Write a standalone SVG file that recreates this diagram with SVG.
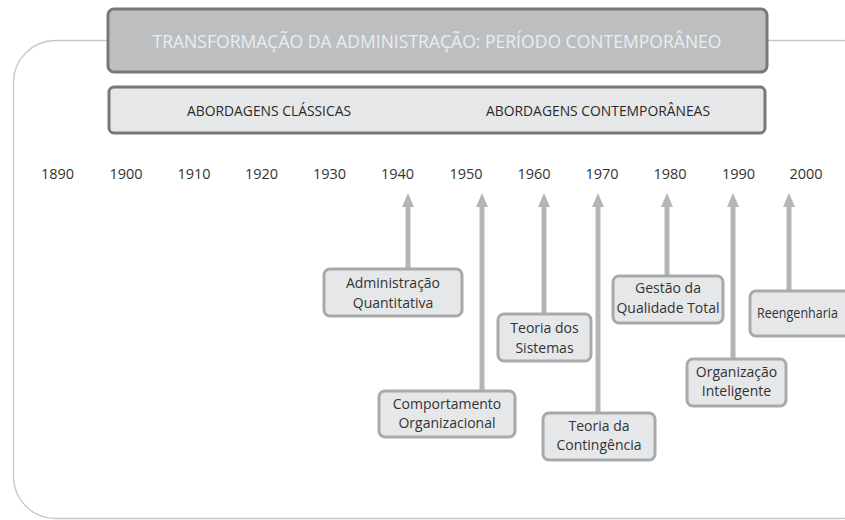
<svg xmlns="http://www.w3.org/2000/svg" width="845" height="520" viewBox="0 0 845 520">
<defs>
<style>
.frame{fill:none;stroke:#c6c7c9;stroke-width:1.3}
.title{fill:#bcbec0;stroke:#77787b;stroke-width:3}
.band{fill:#e6e7e8;stroke:#77787b;stroke-width:3}
.node rect{fill:#e6e7e8;stroke:#a7a9ac;stroke-width:3}
text{font-family:"Open Sans","Liberation Sans",sans-serif;fill:#333333}
.node text{font-size:14px;text-anchor:middle}
.yr{font-size:14.5px;text-anchor:middle}
.ttl{font-size:19px;fill:#e6eef6;text-anchor:middle}
.bt{font-size:14.5px;text-anchor:middle;fill:#2a2a2a}
.conn line{stroke:#b3b5b8;stroke-width:5}
</style>
<marker id="ah" viewBox="0 0 14 12" refX="1" refY="6" markerWidth="14" markerHeight="12" markerUnits="userSpaceOnUse" orient="auto">
<path d="M0,0 L14,6 L0,12 Z" fill="#b3b5b8"/>
</marker>
</defs>
<rect width="845" height="520" fill="#ffffff"/>
<rect class="frame" x="13.5" y="40.5" width="870" height="478" rx="42"/>
<g id="title">
<rect class="title" x="108" y="9" width="659" height="63" rx="6"/>
<text class="ttl" x="437" y="48" textLength="569" lengthAdjust="spacingAndGlyphs">TRANSFORMAÇÃO DA ADMINISTRAÇÃO: PERÍODO CONTEMPORÂNEO</text>
</g>
<g id="abordagens">
<rect class="band" x="109" y="87" width="656" height="46" rx="5"/>
<text class="bt" x="269" y="116" textLength="164" lengthAdjust="spacingAndGlyphs">ABORDAGENS CLÁSSICAS</text>
<text class="bt" x="598" y="116" textLength="224" lengthAdjust="spacingAndGlyphs">ABORDAGENS CONTEMPORÂNEAS</text>
</g>
<g id="years">
<text class="yr" x="57.5" y="179">1890</text>
<text class="yr" x="126" y="179">1900</text>
<text class="yr" x="194" y="179">1910</text>
<text class="yr" x="261.5" y="179">1920</text>
<text class="yr" x="329.5" y="179">1930</text>
<text class="yr" x="397.5" y="179">1940</text>
<text class="yr" x="466" y="179">1950</text>
<text class="yr" x="534" y="179">1960</text>
<text class="yr" x="602" y="179">1970</text>
<text class="yr" x="670" y="179">1980</text>
<text class="yr" x="738.5" y="179">1990</text>
<text class="yr" x="806" y="179">2000</text>
</g>
<g id="connectors" class="conn">
<line x1="408" y1="268" x2="408" y2="206" marker-end="url(#ah)"/>
<line x1="482" y1="390" x2="482" y2="206" marker-end="url(#ah)"/>
<line x1="544" y1="313" x2="544" y2="206" marker-end="url(#ah)"/>
<line x1="598" y1="412" x2="598" y2="206" marker-end="url(#ah)"/>
<line x1="667" y1="275" x2="667" y2="206" marker-end="url(#ah)"/>
<line x1="733" y1="358" x2="733" y2="206" marker-end="url(#ah)"/>
<line x1="789" y1="290" x2="789" y2="206" marker-end="url(#ah)"/>
</g>
<g id="adm-quantitativa" class="node">
<rect x="324" y="269" width="138" height="47" rx="6"/>
<text x="393" y="288">Administração</text>
<text x="393" y="308">Quantitativa</text>
</g>
<g id="comportamento" class="node">
<rect x="379" y="391" width="136" height="46" rx="6"/>
<text x="447" y="409">Comportamento</text>
<text x="447" y="428">Organizacional</text>
</g>
<g id="sistemas" class="node">
<rect x="498" y="314" width="93" height="47" rx="6"/>
<text x="544.5" y="333">Teoria dos</text>
<text x="544.5" y="353">Sistemas</text>
</g>
<g id="contingencia" class="node">
<rect x="543" y="413" width="112" height="47" rx="6"/>
<text x="599" y="431">Teoria da</text>
<text x="599" y="450">Contingência</text>
</g>
<g id="qualidade" class="node">
<rect x="613" y="276" width="110" height="47" rx="6"/>
<text x="668" y="293">Gestão da</text>
<text x="668" y="313">Qualidade Total</text>
</g>
<g id="organizacao" class="node">
<rect x="687" y="359" width="99" height="47" rx="6"/>
<text x="736.5" y="377">Organização</text>
<text x="736.5" y="396">Inteligente</text>
</g>
<g id="reengenharia" class="node">
<rect x="750" y="291" width="110" height="45" rx="6"/>
<text x="757" y="318" style="text-anchor:start" textLength="81" lengthAdjust="spacingAndGlyphs">Reengenharia</text>
</g>
</svg>
